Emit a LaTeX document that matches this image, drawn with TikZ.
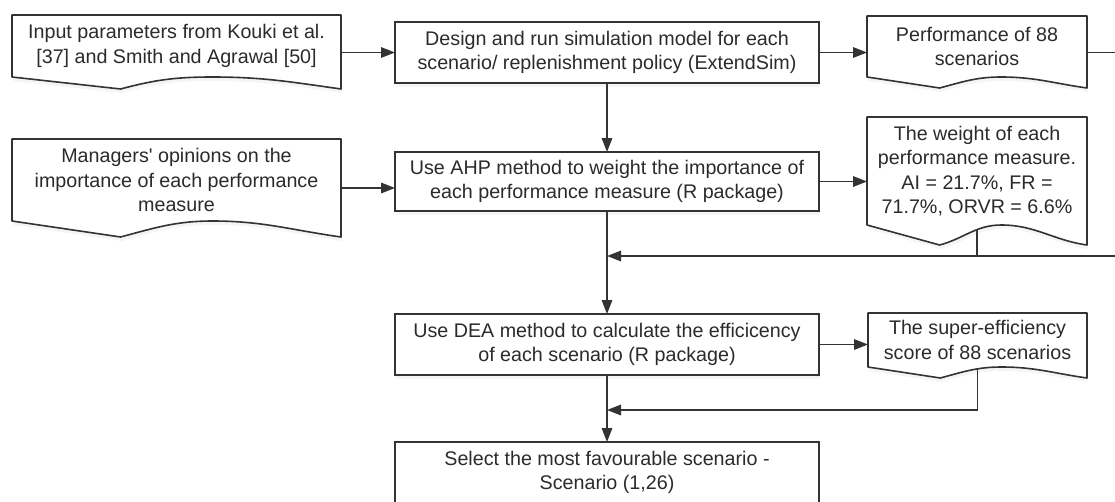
\documentclass[tikz,border=0pt]{standalone}
\usepackage{fontspec}
\setmainfont{Liberation Sans}
\usepackage{xcolor}
\usepackage{tikz}
\usetikzlibrary{arrows.meta,calc,shadows,backgrounds}

\definecolor{linegray}{HTML}{333333}
\definecolor{textgray}{HTML}{2B2B2B}

\newcommand{\docoutline}[2]{%
  \path[doc outline] (#1.north west) -- (#1.north east) -- ([yshift=-#2]#1.south east)
    to[out=172,in=0] ($(#1.south west)!0.61!(#1.south east)$)
    to[out=180,in=15] ($([yshift=-#2]#1.south west)!0.33!([yshift=-#2]#1.south east)$)
    -- (#1.south west) -- cycle;}

\begin{document}
\begin{tikzpicture}[x=1pt, y=1pt, font=\fontsize{19.7}{24.5}\selectfont,
    process/.style={draw=linegray, line width=1.6pt, fill=white, text=textgray, align=center,
      inner sep=0pt, outer sep=0pt, drop shadow={opacity=0.08, shadow xshift=1pt, shadow yshift=-4pt}},
    document/.style={text=textgray, align=center, inner sep=0pt, outer sep=0pt},
    doc outline/.style={draw=linegray, line width=1.6pt, fill=white, line join=round,
      drop shadow={opacity=0.08, shadow xshift=1pt, shadow yshift=-4pt}},
    line/.style={draw=linegray, line width=1.6pt},
    flow/.style={line, -{Triangle[length=14pt,width=10.5pt]}}]
        \useasboundingbox (0,0) rectangle (1115,-501);

        \node[document, minimum width=329pt, minimum height=62pt] (Input-Parameters) at (176.5,-46) {Input parameters from Kouki et al.\\{[37]} and Smith and Agrawal [50]};
        \node[process, minimum width=424pt, minimum height=61pt] (Simulation-Model) at (607,-52.5) {Design and run simulation model for each\\scenario/ replenishment policy (ExtendSim)};
        \node[document, minimum width=220pt, minimum height=61pt] (Performance) at (977,-46.5) {Performance of 88\\scenarios};
        \node[document, minimum width=329pt, minimum height=82pt] (Managers-Opinions) at (176.5,-180) {Managers\textquotesingle{} opinions on the\\importance of each performance\\measure};
        \node[process, minimum width=424pt, minimum height=59pt] (AHP-Method) at (607,-181.5) {Use AHP method to weight the importance of\\each performance measure (R package)};
        \node[document, minimum width=220pt, minimum height=108pt] (Weights) at (977,-171) {The weight of each\\performance measure.\\AI = 21.7\%, FR =\\71.7\%, ORVR = 6.6\%};
        \node[process, minimum width=424pt, minimum height=61pt] (DEA-Method) at (607,-344.5) {Use DEA method to calculate the efficicency\\of each scenario (R package)};
        \node[document, minimum width=219pt, minimum height=54pt] (Super-Efficiency) at (977.5,-340) {The super-efficiency\\score of 88 scenarios};
        \node[process, minimum width=424pt, minimum height=61pt] (Selection) at (607,-472.5) {Select the most favourable scenario -\\Scenario (1,26)};

        \coordinate (Join-1) at (AHP-Method.south |- 0,-256);
        \coordinate (Join-2) at (DEA-Method.south |- 0,-410);
        \coordinate (Return-Corner) at (1125,-256);

        \begin{pgfonlayer}{background}
        \draw[flow] (Simulation-Model.west -| Input-Parameters.east) -- (Simulation-Model.west);
        \draw[flow] (Simulation-Model.east) -- (Simulation-Model.east -| Performance.west);
        \draw[flow] (Simulation-Model.south) -- (AHP-Method.north);
        \draw[flow] ([yshift=-8pt]Managers-Opinions.east) -- ([yshift=-8pt]Managers-Opinions.east -| AHP-Method.west);
        \draw[flow] (AHP-Method.east) -- (AHP-Method.east -| Weights.west);
        \draw[flow] (AHP-Method.south) -- (DEA-Method.north);
        \draw[flow] (Performance.east |- Simulation-Model.east) -- (Return-Corner |- Simulation-Model.east) -- (Return-Corner) -- (Join-1);
        \draw[line] (Weights.south) -- (Weights.south |- Join-1);
        \draw[flow] (DEA-Method.east) -- (DEA-Method.east -| Super-Efficiency.west);
        \draw[flow] (DEA-Method.south) -- (Selection.north);
        \draw[flow] (Super-Efficiency.south) |- (Join-2);

        \docoutline{Input-Parameters}{12pt}
        \docoutline{Performance}{11pt}
        \docoutline{Managers-Opinions}{16pt}
        \docoutline{Weights}{20pt}
        \docoutline{Super-Efficiency}{11pt}
        \end{pgfonlayer}
    \end{tikzpicture}
\end{document}
